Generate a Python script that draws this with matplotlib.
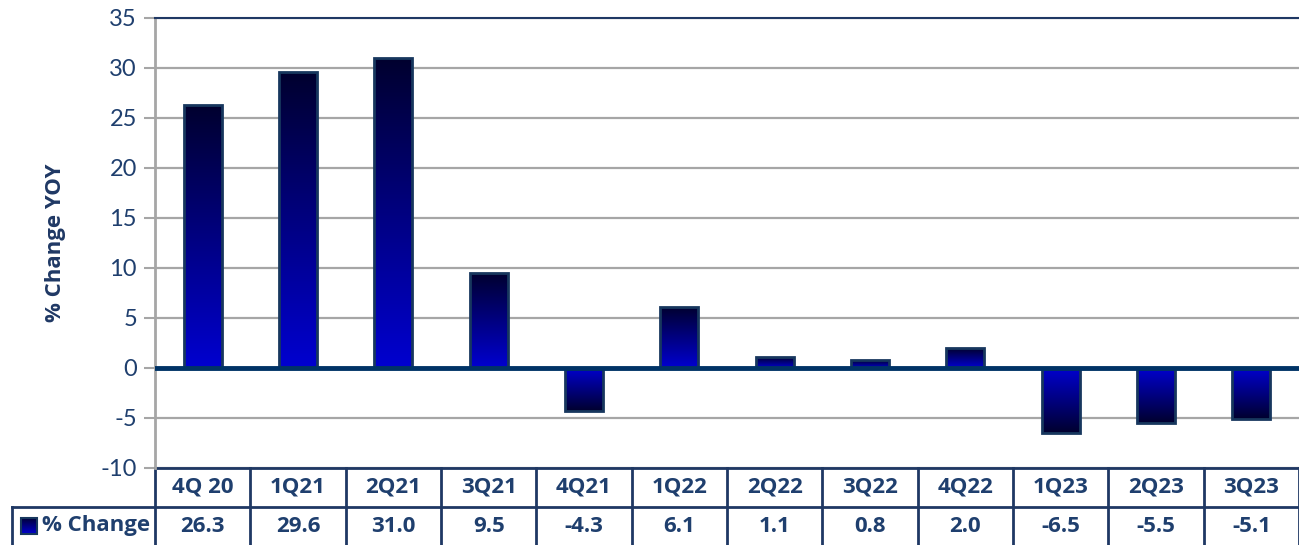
import numpy as np
import matplotlib.pyplot as plt
from matplotlib.colors import LinearSegmentedColormap
from matplotlib.patches import Rectangle
from matplotlib.transforms import blended_transform_factory

quarters = ["4Q 20", "1Q21", "2Q21", "3Q21", "4Q21", "1Q22",
            "2Q22", "3Q22", "4Q22", "1Q23", "2Q23", "3Q23"]
pct_change = [26.3, 29.6, 31.0, 9.5, -4.3, 6.1, 1.1, 0.8, 2.0, -6.5, -5.5, -5.1]
series_name = "% Change"
y_ticks = [-10, -5, 0, 5, 10, 15, 20, 25, 30, 35]

NAVY = "#1F3864"
TEXT = "#1F3F6E"
EDGE = "#17375E"
BOLD = ["Open Sans", "DejaVu Sans"]

plt.rcParams["font.family"] = ["Lato", "DejaVu Sans"]

W, H = 1299, 545
fig = plt.figure(figsize=(W / 100, H / 100), dpi=100)
ax = fig.add_axes([155 / W, (H - 468) / H, 1144 / W, 450 / H])

# dark at the tip of the bar, bright blue at the baseline
grad = LinearSegmentedColormap.from_list("bar", ["#0000D0", "#000080", "#00002E"])
ramp = np.linspace(0, 1, 256).reshape(-1, 1)

x = np.arange(len(quarters))
bars = ax.bar(x, pct_change, width=0.4, facecolor="none",
              edgecolor=EDGE, linewidth=2, zorder=4)
for bar, v in zip(bars, pct_change):
    x0 = bar.get_x()
    x1 = x0 + bar.get_width()
    img = ramp if v >= 0 else ramp[::-1]
    im = ax.imshow(img, cmap=grad, aspect="auto", origin="lower",
                   extent=(x0, x1, min(0, v), max(0, v)), zorder=3)
    im.set_clip_path(bar)

ax.set_yticks(y_ticks)
ax.set_yticklabels([str(t) for t in y_ticks])
ax.grid(axis="y", color="#A6A6A6", linewidth=1.6, zorder=1)
ax.set_axisbelow(True)
ax.axhline(0, color="#003366", linewidth=3.5, zorder=5)

ax.tick_params(axis="y", length=8, width=1.5, color="#A6A6A6",
               labelsize=17, labelcolor=TEXT, pad=5)
ax.tick_params(axis="x", bottom=False, labelbottom=False)
for side in ("right", "bottom"):
    ax.spines[side].set_visible(False)
ax.spines["left"].set_color("#A6A6A6")
ax.spines["left"].set_linewidth(2)
ax.spines["top"].set_color(NAVY)
ax.spines["top"].set_linewidth(1.5)

ax.set_ylabel("% Change YOY", fontsize=16, fontweight="bold", family=BOLD,
              color=NAVY, labelpad=25)

# data table below the axis: x in data units, y in axes fraction
tr = blended_transform_factory(ax.transData, ax.transAxes)
r0, r1, r2 = 0.0, -39 / 450, -77 / 450
x_left = -2.0
x_end = len(quarters) - 0.5
line_kw = dict(color=NAVY, linewidth=2, transform=tr, clip_on=False)

ax.plot([-0.5, x_end], [r0, r0], **line_kw)
ax.plot([x_left, x_end], [r1, r1], **line_kw)
ax.plot([x_left, x_left], [r1, r2], **line_kw)
for i in range(len(quarters) + 1):
    ax.plot([i - 0.5, i - 0.5], [r0, r2], **line_kw)

cell_kw = dict(transform=tr, ha="center", va="center", fontsize=16,
               fontweight="bold", family=BOLD, color=TEXT)
for i, (q, v) in enumerate(zip(quarters, pct_change)):
    ax.text(i, (r0 + r1) / 2, q, **cell_kw)
    ax.text(i, (r1 + r2) / 2, f"{v:.1f}", **cell_kw)

# legend key in the row header
px = 1 / 95.33  # one pixel in x data units
key_w = 16 * px
key_h = 16 / 450
kx, ky = x_left + 9 * px, (r1 + r2) / 2 - key_h / 2
key = Rectangle((kx, ky), key_w, key_h, transform=tr, clip_on=False,
                facecolor="none", edgecolor=EDGE, linewidth=1.5, zorder=6)
ax.add_patch(key)
kim = ax.imshow(ramp, cmap=grad, aspect="auto", origin="lower",
                extent=(kx, kx + key_w, ky, ky + key_h), transform=tr,
                clip_on=False, zorder=5)
kim.set_clip_path(key)
ax.text(kx + key_w + 5 * px, (r1 + r2) / 2, series_name, transform=tr,
        ha="left", va="center", fontsize=16, fontweight="bold", family=BOLD,
        color=TEXT)

ax.set_xlim(-0.5, len(quarters) - 0.5)
ax.set_ylim(-10, 35)

fig.savefig("out.png", dpi=100)
